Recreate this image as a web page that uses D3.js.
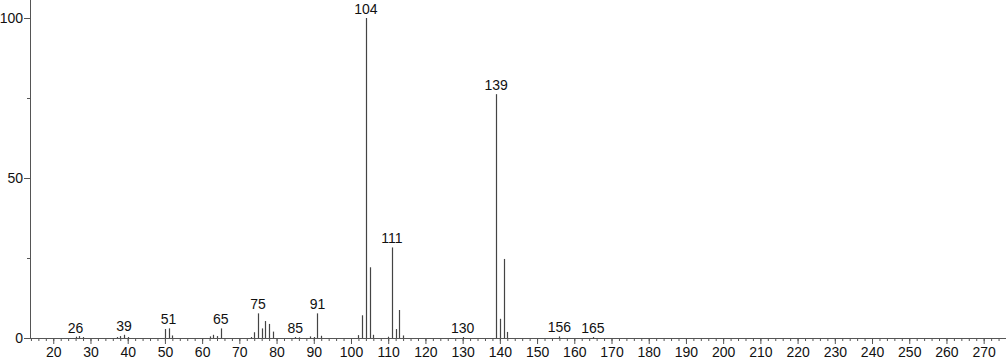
<!DOCTYPE html>
<html>
<head>
<meta charset="utf-8">
<script src="https://cdn.jsdelivr.net/npm/d3@7"></script>
<style>
  body { margin: 0; background: #fff; }
  text { font-family: "Liberation Sans", Arial, sans-serif; }
</style>
</head>
<body>
<div id="chart"></div>
<script>
// peak positions (m/z) and relative intensities
var masses = [26, 27, 28, 37, 38, 39, 40, 50, 51, 52, 62, 63, 64, 65,
              73, 74, 75, 76, 77, 78, 79, 85, 86, 89, 90, 91, 92,
              102, 103, 104, 105, 106, 110, 111, 112, 113, 114, 130,
              139, 140, 141, 142, 156, 165];
var intensities = [0.4, 0.6, 0.3, 0.3, 0.6, 1.0, 0.3, 2.8, 3.0, 0.8, 0.5, 1.0, 0.6, 3.0,
                   0.3, 1.8, 7.7, 3.0, 5.3, 4.4, 2.0, 0.3, 0.2, 0.5, 0.3, 7.7, 0.7,
                   0.9, 7.1, 100, 22.1, 1.0, 0.4, 28.3, 2.8, 8.75, 0.8, 0.3,
                   76.2, 6.0, 24.7, 1.9, 0.5, 0.3];
var labelled = [26, 39, 51, 65, 75, 85, 91, 104, 111, 130, 139, 156, 165];
var xTicks = d3.range(20, 271, 10);
var yTicks = [0, 50, 100];

var width = 1007, height = 362;

var svg = d3.select("#chart")
    .append("svg")
    .attr("width", width)
    .attr("height", height);

var x = d3.scaleLinear()
    .domain([13.75, 276])
    .range([30, 1006]);

var y = d3.scaleLinear()
    .domain([0, 100])
    .range([338, 18]);

// x axis: major ticks every 10, minor every 2
svg.append("g")
    .attr("transform", "translate(0," + y(0) + ")")
    .call(d3.axisBottom(x).tickValues(d3.range(14, 276, 2)).tickSize(3).tickFormat(""))
    .call(g => g.select(".domain").remove())
    .selectAll("line").attr("stroke", "#555");

var xAxis = svg.append("g")
    .attr("transform", "translate(0," + y(0) + ")")
    .call(d3.axisBottom(x).tickValues(xTicks).tickSize(6).tickSizeOuter(0).tickPadding(3));
xAxis.select(".domain").attr("stroke", "#555").attr("d", "M30,0.5H1006");
xAxis.selectAll("line").attr("stroke", "#555");
xAxis.selectAll("text").attr("font-size", "14px").attr("fill", "#111")
    .attr("font-family", "Liberation Sans, Arial, sans-serif");

// y axis
svg.append("g")
    .attr("transform", "translate(30,0)")
    .call(d3.axisLeft(y).tickValues([25, 75]).tickSize(3).tickFormat(""))
    .call(g => g.select(".domain").remove())
    .selectAll("line").attr("stroke", "#555");

var yAxis = svg.append("g")
    .attr("transform", "translate(30,0)")
    .call(d3.axisLeft(y).tickValues(yTicks).tickSize(6).tickSizeOuter(0).tickPadding(1));
yAxis.select(".domain").attr("stroke", "#555").attr("d", "M0.5,338V0");
yAxis.selectAll("line").attr("stroke", "#555");
yAxis.selectAll("text").attr("font-size", "14px").attr("fill", "#111")
    .attr("font-family", "Liberation Sans, Arial, sans-serif");

var peaks = masses.map(function(m, i) { return {mz: m, rel: intensities[i]}; });

// peak sticks
svg.append("g").selectAll("line")
    .data(peaks)
    .enter()
    .append("line")
    .attr("x1", d => Math.round(x(d.mz)) + 0.5)
    .attr("x2", d => Math.round(x(d.mz)) + 0.5)
    .attr("y1", y(0))
    .attr("y2", d => y(d.rel))
    .attr("stroke", "#444")
    .attr("stroke-width", 1.2);

// peak labels
svg.append("g").selectAll("text")
    .data(peaks.filter(d => labelled.indexOf(d.mz) >= 0))
    .enter()
    .append("text")
    .attr("x", d => x(d.mz))
    .attr("y", d => y(d.rel) - 4)
    .attr("text-anchor", "middle")
    .attr("font-size", "14px")
    .attr("fill", "#111")
    .text(d => d.mz);
</script>
</body>
</html>
